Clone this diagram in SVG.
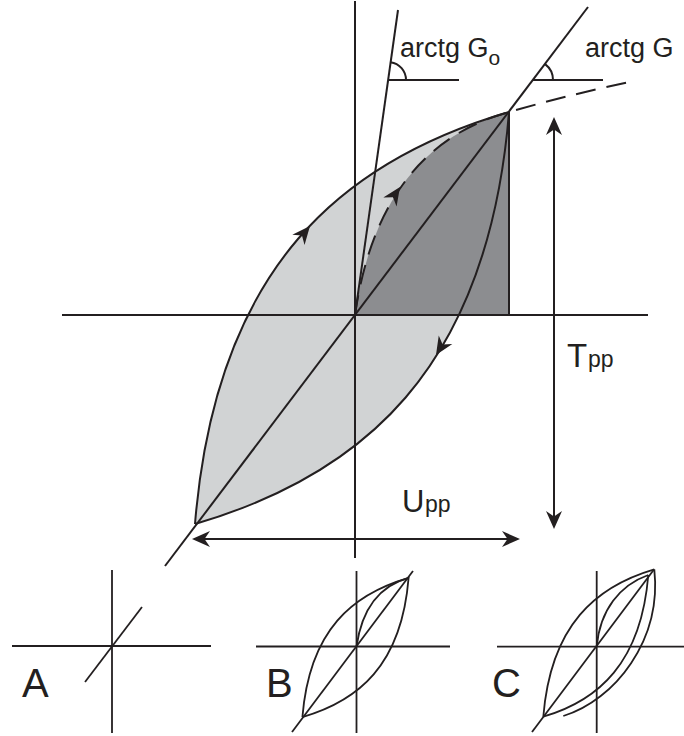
<svg xmlns="http://www.w3.org/2000/svg" width="684" height="736" viewBox="0 0 684 736">
<style>
.ln{fill:none;stroke:#231f20;stroke-width:2}
.th{fill:none;stroke:#231f20;stroke-width:1.8}
.ah{fill:#231f20;stroke:none}
.tx{font-family:"Liberation Sans",Arial,sans-serif;fill:#231f20}
</style>
<defs>
<path id="head" d="M0,0 L-18,-8 L-12.5,0 L-18,8 Z"/>
</defs>
<rect width="684" height="736" fill="#ffffff"/>
<g id="loop">
<path d="M195,524 C216,264 345,160 509,112 C488,372 359,476 195,524 Z" fill="#d1d3d4"/>
<path d="M355,315 C372,196 429,134 509,112 L509,315 Z" fill="#8c8d90"/>
</g>
<g id="axes">
<line class="ln" x1="355" y1="1" x2="355" y2="558"/>
<line class="ln" x1="62" y1="315" x2="648" y2="315"/>
<line class="ln" x1="165" y1="566" x2="588" y2="7"/>
<line class="ln" x1="355" y1="315" x2="398" y2="10"/>
<line class="ln" x1="509" y1="112" x2="509" y2="315"/>
</g>
<g id="angles">
<line class="ln" x1="388" y1="80" x2="459" y2="80"/>
<path class="ln" d="M406,80 A18,18 0 0 0 390.5,62.2"/>
<line class="ln" x1="533" y1="80" x2="603" y2="80"/>
<path class="ln" d="M553,80 A20,20 0 0 0 545.1,64.1"/>
</g>
<g id="branches">
<path class="ln" d="M195,524 C216,264 345,160 509,112"/>
<path class="ln" d="M509,112 C488,372 359,476 195,524"/>
<path class="ln" d="M355,315 C372,196 429,134 509,112 C540,103 590,90 634,81" stroke-dasharray="20 11"/>
<use href="#head" class="ah" transform="translate(310,226) rotate(-50)"/>
<use href="#head" class="ah" transform="translate(436,355) rotate(122)"/>
<use href="#head" class="ah" transform="translate(400,187) rotate(-56)"/>
</g>
<g id="dimensions">
<line class="ln" x1="554" y1="122" x2="554" y2="524"/>
<use href="#head" class="ah" transform="translate(554,117) rotate(-90)"/>
<use href="#head" class="ah" transform="translate(554,529) rotate(90)"/>
<line class="ln" x1="197" y1="539" x2="515" y2="539"/>
<use href="#head" class="ah" transform="translate(192,539) rotate(180)"/>
<use href="#head" class="ah" transform="translate(520,539)"/>
</g>
<g id="labels">
<text class="tx" x="400" y="57" font-size="27">arctg G<tspan font-size="21" dy="8">o</tspan></text>
<text class="tx" x="585" y="57" font-size="27">arctg G</text>
<text class="tx" x="567" y="367" font-size="33">T</text>
<text class="tx" x="588" y="367" font-size="23">pp</text>
<text class="tx" x="402" y="512" font-size="31">U</text>
<text class="tx" x="425" y="512" font-size="23">pp</text>
</g>
<g id="diagram-A">
<line class="th" x1="112" y1="570" x2="112" y2="733"/>
<line class="th" x1="12" y1="646" x2="211" y2="646"/>
<line class="th" x1="85" y1="682" x2="142" y2="607"/>
<text class="tx" x="22" y="697" font-size="40">A</text>
</g>
<g id="diagram-B">
<line class="th" x1="356.5" y1="571" x2="356.5" y2="733"/>
<line class="th" x1="256" y1="646.5" x2="450" y2="646.5"/>
<line class="th" x1="292" y1="732" x2="413" y2="571"/>
<path class="th" d="M302.4,717.1 C309.5,629.3 353.1,594.1 408.6,577.9 C401.5,665.8 357.9,700.9 302.4,717.1"/>
<path class="th" d="M356.5,646.5 C362.3,606.3 381.5,585.3 408.6,577.9"/>
<text class="tx" x="266" y="697" font-size="40">B</text>
</g>
<g id="diagram-C">
<line class="th" x1="596.7" y1="571" x2="596.7" y2="733"/>
<line class="th" x1="497" y1="646.7" x2="684" y2="646.7"/>
<line class="th" x1="532" y1="732" x2="654" y2="569.5"/>
<path class="th" d="M543.3,716.7 C550.7,624.7 596.3,586.3 654.3,569.3"/>
<path class="th" d="M654.3,569.3 C662,640 615,700 563.3,716"/>
<path class="th" d="M596.7,646.7 C600,610 620,585 648.3,575"/>
<path class="th" d="M648.3,575 C641.2,662.6 598.6,700.5 543.3,716.7"/>
<text class="tx" x="492" y="697" font-size="40">C</text>
</g>
</svg>
